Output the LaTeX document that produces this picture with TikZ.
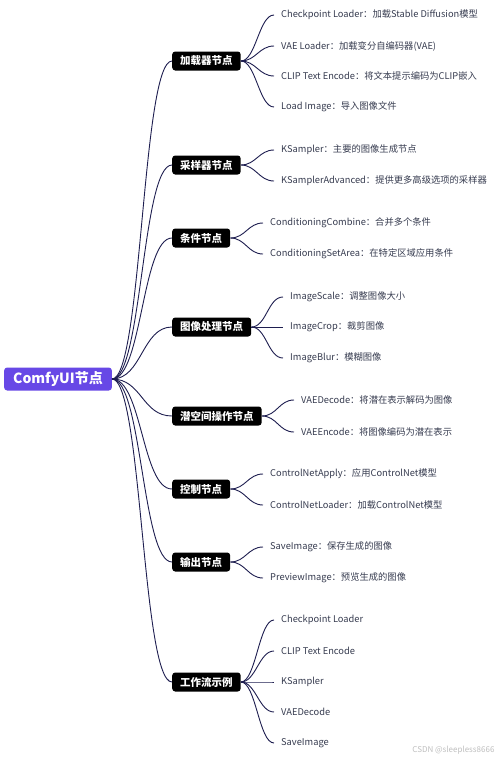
\documentclass[tikz,border=0pt]{standalone}
\usepackage{fontspec}
\setmainfont{Noto Sans CJK SC}
\usepackage{xcolor}
\usetikzlibrary{positioning}

\definecolor{rootpurple}{RGB}{103,72,230}
\definecolor{linknavy}{RGB}{30,30,80}
\definecolor{leafgray}{RGB}{55,60,80}

\begin{document}
\begin{tikzpicture}[x=1pt, y=-1pt,
    root/.style={fill=rootpurple, text=white, rounded corners=3pt, font=\bfseries\fontsize{14}{16}\selectfont, inner xsep=9pt, minimum height=23pt},
    cat/.style={fill=black, text=white, rounded corners=3pt, font=\bfseries\fontsize{10.5}{12}\selectfont, inner xsep=8pt, minimum height=19pt, anchor=west},
    leaf/.style={anchor=west, text=leafgray, font=\fontsize{9.3}{11}\selectfont, inner xsep=7pt, inner ysep=1pt},
    link/.style={draw=linknavy, line width=0.9pt}]
    \useasboundingbox[fill=white] (0,0) rectangle (500,758);

    % root and categories
    \node[root] (root) at (58,379) {ComfyUI节点};
    \node[cat] (loader) at (172,61) {加载器节点};
    \node[cat] (sampler) at (172,165) {采样器节点};
    \node[cat] (cond) at (172,238) {条件节点};
    \node[cat] (image) at (172,327) {图像处理节点};
    \node[cat] (latent) at (172,416) {潜空间操作节点};
    \node[cat] (control) at (172,489) {控制节点};
    \node[cat] (output) at (172,562) {输出节点};
    \node[cat] (flow) at (172,682) {工作流示例};

    \foreach \c in {loader,sampler,cond,image,latent,control,output,flow}
        \draw[link] (root.east) .. controls +(30,0) and +(-30,0) .. (\c.west);

    % loader
    \node[leaf] (ckpt) at (274,15) {Checkpoint Loader：加载Stable Diffusion模型};
    \node[leaf] (vaeload) at (274,46) {VAE Loader：加载变分自编码器(VAE)};
    \node[leaf] (clip) at (274,76) {CLIP Text Encode：将文本提示编码为CLIP嵌入};
    \node[leaf] (loadimg) at (274,107) {Load Image：导入图像文件};
    % sampler
    \node[leaf] (ksampler) at (274,150) {KSampler：主要的图像生成节点};
    \node[leaf] (ksadv) at (274,181) {KSamplerAdvanced：提供更多高级选项的采样器};
    % conditioning
    \node[leaf] (combine) at (263,223) {ConditioningCombine：合并多个条件};
    \node[leaf] (setarea) at (263,254) {ConditioningSetArea：在特定区域应用条件};
    % image
    \node[leaf] (scale) at (283,297) {ImageScale：调整图像大小};
    \node[leaf] (crop) at (283,327) {ImageCrop：裁剪图像};
    \node[leaf] (blur) at (283,358) {ImageBlur：模糊图像};
    % latent
    \node[leaf] (decode) at (294,400) {VAEDecode：将潜在表示解码为图像};
    \node[leaf] (encode) at (294,432) {VAEEncode：将图像编码为潜在表示};
    % control
    \node[leaf] (cnapply) at (263,474) {ControlNetApply：应用ControlNet模型};
    \node[leaf] (cnload) at (263,505) {ControlNetLoader：加载ControlNet模型};
    % output
    \node[leaf] (save) at (263,547) {SaveImage：保存生成的图像};
    \node[leaf] (preview) at (263,578) {PreviewImage：预览生成的图像};
    % workflow
    \node[leaf] (wfckpt) at (274,620) {Checkpoint Loader};
    \node[leaf] (wfclip) at (274,651) {CLIP Text Encode};
    \node[leaf] (wfks) at (274,682) {KSampler};
    \node[leaf] (wfdec) at (274,712) {VAEDecode};
    \node[leaf] (wfsave) at (274,743) {SaveImage};

    \foreach \c/\l in {loader/ckpt,loader/vaeload,loader/clip,loader/loadimg,
        sampler/ksampler,sampler/ksadv,cond/combine,cond/setarea,
        image/scale,image/crop,image/blur,latent/decode,latent/encode,
        control/cnapply,control/cnload,output/save,output/preview,
        flow/wfckpt,flow/wfclip,flow/wfks,flow/wfdec,flow/wfsave}
        \draw[link] (\c.east) .. controls +(15,0) and +(-15,0) .. (\l.west);

    \node[anchor=east, text=black!25, font=\fontsize{8}{10}\selectfont] (mark) at (498,750) {CSDN @sleepless8666};
\end{tikzpicture}
\end{document}
